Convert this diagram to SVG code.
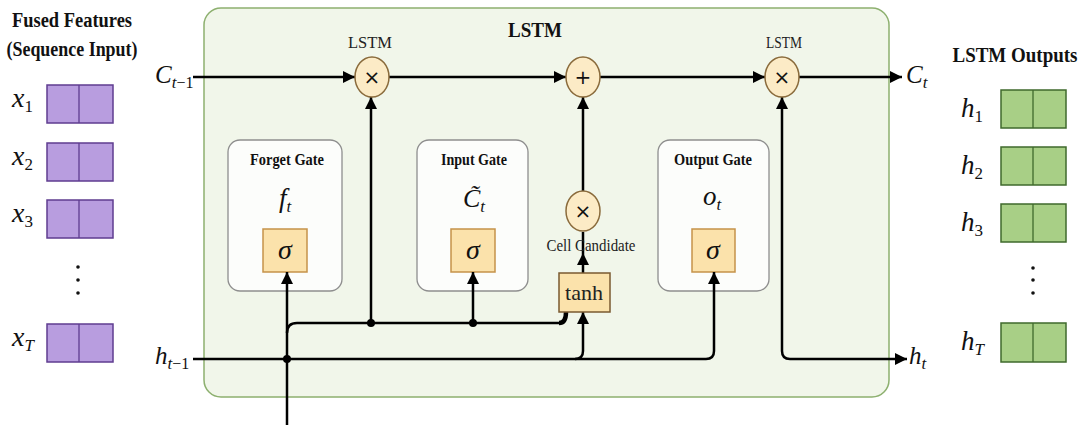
<svg xmlns="http://www.w3.org/2000/svg" width="1084" height="425" viewBox="0 0 1084 425">
<defs>
<marker id="ah" markerWidth="12" markerHeight="12" refX="12" refY="6" orient="auto" markerUnits="userSpaceOnUse"><path d="M0,0 L12,6 L0,12 z" fill="#000"/></marker>
<style>
.ttl{font-family:"Liberation Serif",serif;font-weight:bold;fill:#111}
.lbl{font-family:"Liberation Serif",serif;fill:#222}
.m{font-family:"Liberation Serif",serif;font-style:italic;fill:#111}
.sub{font-size:17px}
.up{font-style:normal}
.pbox{fill:#b89ddf;stroke:#5f3d90;stroke-width:1.5}
.gbox{fill:#a8cf86;stroke:#3f6a2c;stroke-width:1.5}
.gate{fill:#fcfdfb;stroke:#8e8e8e;stroke-width:1.3}
.sig{fill:#fbe2ab;stroke:#c5924a;stroke-width:1.5}
.op{fill:#fcebc6;stroke:#8a6b3c;stroke-width:1.5}
.sym{font-family:"DejaVu Sans",sans-serif;font-size:20px;fill:#111}
.ln{fill:none;stroke:#000;stroke-width:2.5}
</style>
</defs>
<rect width="1084" height="425" fill="#fff"/>

<g id="input-panel">
<text class="ttl" x="72" y="27" font-size="20" text-anchor="middle" textLength="120" lengthAdjust="spacingAndGlyphs">Fused Features</text>
<text class="ttl" x="72" y="56" font-size="20" text-anchor="middle" textLength="131" lengthAdjust="spacingAndGlyphs">(Sequence Input)</text>
<g id="x1"><rect class="pbox" x="47" y="85" width="66" height="38"/><line x1="79" y1="85" x2="79" y2="123" stroke="#5f3d90" stroke-width="1.3"/><text class="m" x="12" y="107" font-size="28">x<tspan class="sub up" dy="5">1</tspan></text></g>
<g id="x2"><rect class="pbox" x="47" y="143" width="66" height="38"/><line x1="79" y1="143" x2="79" y2="181" stroke="#5f3d90" stroke-width="1.3"/><text class="m" x="12" y="165" font-size="28">x<tspan class="sub up" dy="5">2</tspan></text></g>
<g id="x3"><rect class="pbox" x="47" y="200" width="66" height="38"/><line x1="79" y1="200" x2="79" y2="238" stroke="#5f3d90" stroke-width="1.3"/><text class="m" x="12" y="222" font-size="28">x<tspan class="sub up" dy="5">3</tspan></text></g>
<g id="xdots" fill="#111"><circle cx="78" cy="267" r="1.8"/><circle cx="78" cy="280" r="1.8"/><circle cx="78" cy="293" r="1.8"/></g>
<g id="xT"><rect class="pbox" x="47" y="324" width="66" height="38"/><line x1="79" y1="324" x2="79" y2="362" stroke="#5f3d90" stroke-width="1.3"/><text class="m" x="12" y="346" font-size="28">x<tspan class="sub" dy="5">T</tspan></text></g>
</g>

<g id="lstm-cell">
<rect x="204" y="8" width="685" height="389" rx="17" fill="#f1f6ea" stroke="#8db06f" stroke-width="1.5"/>
<text class="ttl" x="535" y="37" font-size="21" text-anchor="middle" textLength="54" lengthAdjust="spacingAndGlyphs">LSTM</text>
</g>

<g id="forget-gate">
<rect class="gate" x="228" y="140" width="114" height="151" rx="12"/>
<text class="ttl" x="287" y="165" font-size="17" text-anchor="middle" textLength="74" lengthAdjust="spacingAndGlyphs">Forget Gate</text>
<text class="m" x="279" y="207" font-size="27">f<tspan class="sub" dy="5">t</tspan></text>
<rect class="sig" x="263" y="229" width="44" height="43"/>
<text class="m" x="285" y="259" font-size="28" text-anchor="middle">σ</text>
</g>

<g id="input-gate">
<rect class="gate" x="417" y="140" width="111" height="151" rx="12"/>
<text class="ttl" x="474" y="165" font-size="17" text-anchor="middle" textLength="66" lengthAdjust="spacingAndGlyphs">Input Gate</text>
<text class="m" x="463" y="207" font-size="26">C̃<tspan class="sub" dy="5">t</tspan></text>
<rect class="sig" x="451" y="229" width="44" height="43"/>
<text class="m" x="473" y="259" font-size="28" text-anchor="middle">σ</text>
</g>

<g id="output-gate">
<rect class="gate" x="658" y="140" width="111" height="151" rx="12"/>
<text class="ttl" x="713" y="165" font-size="17" text-anchor="middle" textLength="78" lengthAdjust="spacingAndGlyphs">Output Gate</text>
<text class="m" x="703" y="205" font-size="27">o<tspan class="sub" dy="5">t</tspan></text>
<rect class="sig" x="692" y="229" width="43" height="43"/>
<text class="m" x="713" y="259" font-size="28" text-anchor="middle">σ</text>
</g>

<g id="connectors">
<path class="ln" d="M193 77 H355" marker-end="url(#ah)"/>
<path class="ln" d="M389 77 H566" marker-end="url(#ah)"/>
<path class="ln" d="M600 77 H765" marker-end="url(#ah)"/>
<path class="ln" d="M799 77 H902" marker-end="url(#ah)"/>
<path class="ln" d="M371 323 V97" marker-end="url(#ah)"/>
<path class="ln" d="M473 323 V272" marker-end="url(#ah)"/>
<path class="ln" d="M287 425 V272" marker-end="url(#ah)"/>
<path class="ln" d="M287 333 Q287 323 297 323 H559 Q566 323 566 312" />
<path d="M559 323 Q566 323 566 312" fill="none" stroke="#000" stroke-width="4.5"/>
<path class="ln" d="M193 359 H706 Q714 359 714 351 V272" marker-end="url(#ah)"/>
<path class="ln" d="M575 359 Q583 359 583 351 V312" marker-end="url(#ah)"/>
<path class="ln" d="M583 273 V253" marker-end="url(#ah)"/>
<path class="ln" d="M583 253 V232"/>
<path class="ln" d="M583 191 V97" marker-end="url(#ah)"/>
<path class="ln" d="M782 351 V97" marker-end="url(#ah)"/>
<path class="ln" d="M782 351 Q782 359 790 359 H907" marker-end="url(#ah)"/>
<circle cx="371" cy="323" r="4" fill="#000"/>
<circle cx="473" cy="323" r="4" fill="#000"/>
<circle cx="287" cy="359" r="4" fill="#000"/>
</g>

<g id="state-labels">
<text class="m" x="155" y="83" font-size="25">C<tspan class="sub" dy="5" font-size="16">t</tspan><tspan class="up" font-size="16">−1</tspan></text>
<text class="m" x="155" y="364" font-size="25">h<tspan class="sub" dy="5" font-size="16">t</tspan><tspan class="up" font-size="16">−1</tspan></text>
<text class="m" x="906" y="83" font-size="25">C<tspan class="sub" dy="5">t</tspan></text>
<text class="m" x="909" y="364" font-size="25">h<tspan class="sub" dy="5">t</tspan></text>
</g>

<g id="forget-mult">
<text class="lbl" x="370" y="48" font-size="16" text-anchor="middle" textLength="44" lengthAdjust="spacingAndGlyphs">LSTM</text>
<ellipse class="op" cx="372" cy="77" rx="17" ry="20"/>
<text class="sym" x="372" y="84" text-anchor="middle">×</text>
</g>
<g id="cell-add">
<ellipse class="op" cx="583" cy="77" rx="17" ry="20"/>
<text class="sym" x="583" y="84" text-anchor="middle">+</text>
</g>
<g id="output-mult">
<text class="lbl" x="784" y="48" font-size="16" text-anchor="middle" textLength="36" lengthAdjust="spacingAndGlyphs">LSTM</text>
<ellipse class="op" cx="782" cy="77" rx="17" ry="20"/>
<text class="sym" x="782" y="84" text-anchor="middle">×</text>
</g>
<g id="candidate-mult">
<ellipse class="op" cx="583" cy="211" rx="17" ry="20"/>
<text class="sym" x="583" y="218" text-anchor="middle">×</text>
<text class="lbl" x="591" y="251" font-size="17" text-anchor="middle" textLength="89" lengthAdjust="spacingAndGlyphs">Cell Candidate</text>
</g>
<g id="tanh">
<rect x="559" y="273" width="51" height="39" fill="#fbe2ab" stroke="#7a5a30" stroke-width="1.5"/>
<text class="lbl" x="584" y="300" font-size="22" text-anchor="middle" fill="#111" textLength="38" lengthAdjust="spacingAndGlyphs">tanh</text>
</g>

<g id="output-panel">
<text class="ttl" x="1015" y="62" font-size="20" text-anchor="middle" textLength="125" lengthAdjust="spacingAndGlyphs">LSTM Outputs</text>
<g id="h1"><rect class="gbox" x="1001" y="90" width="65" height="38"/><line x1="1033" y1="90" x2="1033" y2="128" stroke="#3f6a2c" stroke-width="1.3"/><text class="m" x="961" y="117" font-size="27">h<tspan class="sub up" dy="5">1</tspan></text></g>
<g id="h2"><rect class="gbox" x="1001" y="147" width="65" height="38"/><line x1="1033" y1="147" x2="1033" y2="185" stroke="#3f6a2c" stroke-width="1.3"/><text class="m" x="961" y="174" font-size="27">h<tspan class="sub up" dy="5">2</tspan></text></g>
<g id="h3"><rect class="gbox" x="1001" y="204" width="65" height="38"/><line x1="1033" y1="204" x2="1033" y2="242" stroke="#3f6a2c" stroke-width="1.3"/><text class="m" x="961" y="231" font-size="27">h<tspan class="sub up" dy="5">3</tspan></text></g>
<g id="hdots" fill="#111"><circle cx="1033" cy="268" r="1.8"/><circle cx="1033" cy="280" r="1.8"/><circle cx="1033" cy="293" r="1.8"/></g>
<g id="hT"><rect class="gbox" x="1001" y="323" width="65" height="39"/><line x1="1033" y1="323" x2="1033" y2="362" stroke="#3f6a2c" stroke-width="1.3"/><text class="m" x="961" y="350" font-size="27">h<tspan class="sub" dy="5">T</tspan></text></g>
</g>
</svg>
